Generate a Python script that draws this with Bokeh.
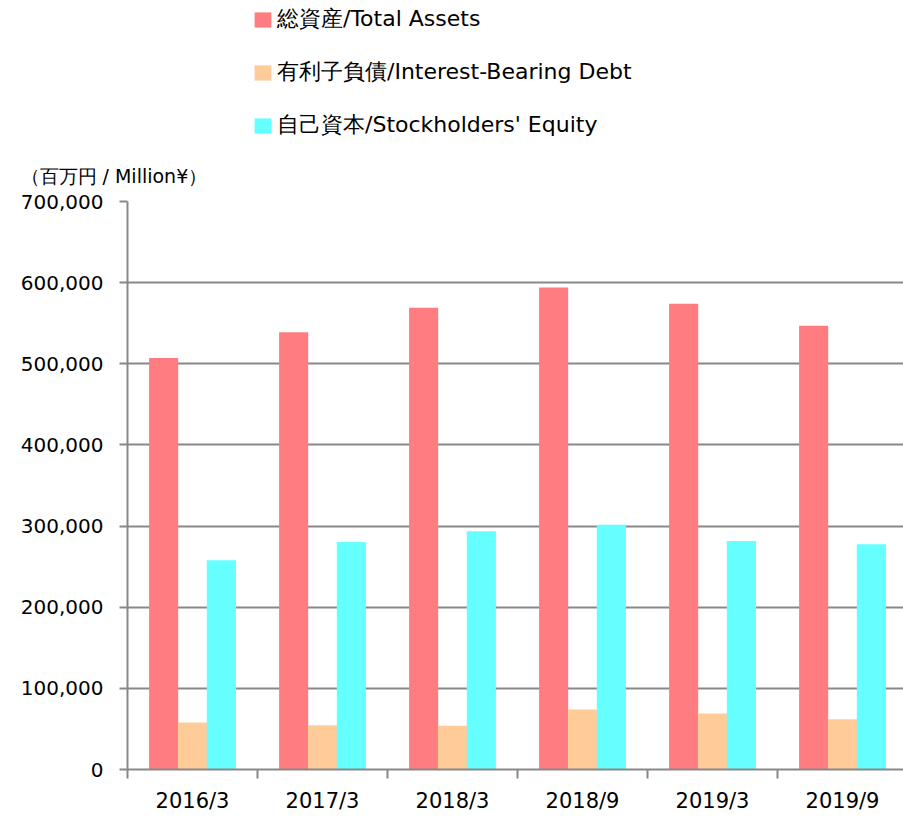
from bokeh.plotting import figure
from bokeh.layouts import column
from bokeh.models import (Range1d, FixedTicker, NumeralTickFormatter, CustomJSTickFormatter,
                          Legend, LegendItem, Title, ColumnDataSource)
from bokeh.embed import file_html
from bokeh.resources import INLINE

categories = ["2016/3", "2017/3", "2018/3", "2018/9", "2019/3", "2019/9"]
total_assets = [507000, 539000, 569000, 594000, 574000, 547000]
interest_debt = [58000, 54500, 54000, 74000, 69000, 62000]
equity = [258000, 280500, 293500, 301500, 281500, 277500]
y_ticks = [0, 100000, 200000, 300000, 400000, 500000, 600000, 700000]
series_names = ["総資産/Total Assets", "有利子負債/Interest-Bearing Debt", "自己資本/Stockholders' Equity"]
series_colors = ["#FF7C80", "#FFCC99", "#66FFFF"]
unit_label = "（百万円 / Million¥）"

GRID = "#888888"
FONT = "DejaVu Sans"

x_range = Range1d(0, 776 / 130)
centers = [i + 0.5 for i in range(len(categories))]
offsets = [-0.222, 0.0, 0.222]
series_values = [total_assets, interest_debt, equity]
sources = [ColumnDataSource(dict(x=[c + off for c in centers], top=vals))
           for vals, off in zip(series_values, offsets)]

# ---------- header holding the legend (bars of the same sources, out of its range) ----------
head = figure(width=903, height=140, output_backend="svg", toolbar_location=None,
              x_range=x_range, y_range=Range1d(1_000_000, 2_000_000),
              x_axis_location=None, y_axis_location=None,
              min_border_left=0, min_border_right=0, min_border_top=0, min_border_bottom=0)
head.outline_line_color = None
head.xgrid.visible = False
head.ygrid.visible = False

key_renderers = [head.vbar(x="x", top="top", width=0.224, bottom=0, source=src,
                           fill_color=col, line_color=None)
                 for src, col in zip(sources, series_colors)]

legend = Legend(items=[LegendItem(label=n, renderers=[r]) for n, r in zip(series_names, key_renderers)],
                location=(125, 0), orientation="vertical",
                glyph_width=21, glyph_height=19, label_standoff=4, label_height=28,
                label_text_font=FONT, label_text_font_size="22px", label_text_color="black",
                spacing=23, padding=0, margin=0,
                border_line_alpha=0, background_fill_alpha=0)
head.add_layout(legend, "center")

# ---------- chart ----------
p = figure(width=903, height=677, output_backend="svg", toolbar_location=None,
           x_range=x_range, y_range=Range1d(0, 700000),
           min_border_left=127, min_border_right=0, min_border_top=61, min_border_bottom=48)
p.outline_line_color = None
p.title = Title(text=unit_label, align="left", offset=-107, standoff=30,
                text_font=FONT, text_font_size="19px", text_font_style="normal",
                text_color="black")

for src, col in zip(sources, series_colors):
    p.vbar(x="x", top="top", width=0.224, bottom=0, source=src,
           fill_color=col, line_color=None)

xa = p.xaxis[0]
xa.ticker = FixedTicker(ticks=centers, minor_ticks=list(range(len(categories) + 1)))
xa.formatter = CustomJSTickFormatter(args=dict(labels=categories),
                                     code="return labels[Math.floor(tick)];")
xa.axis_line_color = GRID
xa.axis_line_width = 2
xa.major_tick_out = 0
xa.major_tick_in = 0
xa.minor_tick_out = 9
xa.minor_tick_in = 0
xa.minor_tick_line_color = GRID
xa.minor_tick_line_width = 2
xa.major_label_standoff = 10
xa.major_label_text_font = FONT
xa.major_label_text_font_size = "21px"
xa.major_label_text_color = "black"
p.xgrid.visible = False

ya = p.yaxis[0]
ya.ticker = FixedTicker(ticks=y_ticks)
ya.formatter = NumeralTickFormatter(format="0,0")
ya.axis_line_color = GRID
ya.axis_line_width = 2
ya.major_tick_out = 8
ya.major_tick_in = 0
ya.major_tick_line_color = GRID
ya.major_tick_line_width = 2
ya.minor_tick_out = 0
ya.minor_tick_in = 0
ya.major_label_standoff = 16
ya.major_label_text_font = FONT
ya.major_label_text_font_size = "20px"
ya.major_label_text_color = "black"
p.ygrid.ticker = FixedTicker(ticks=y_ticks)
p.ygrid.grid_line_color = GRID
p.ygrid.grid_line_width = 2

layout = column(head, p, spacing=0)
open("out.html", "w").write(file_html(layout, INLINE))
